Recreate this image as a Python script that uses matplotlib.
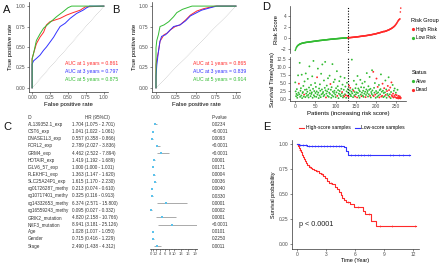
import numpy as np
import matplotlib
matplotlib.use("Agg")
import matplotlib.pyplot as plt
from matplotlib.lines import Line2D
from matplotlib.ticker import MultipleLocator

plt.rcParams['font.family'] = ['Liberation Sans', 'DejaVu Sans']

RED = '#FF2A2A'
BLUE = '#3333FF'
GREEN = '#33BB33'
GRAY = '#4D4D4D'

# ---------------- data ----------------
# ROC, panel A (training)
a1_fpr = [0, 0, 0.02, 0.06, 0.11, 0.16, 0.20, 0.25, 0.32, 0.39, 0.48, 0.57, 0.67, 0.74, 1.0]
a1_tpr = [0, 0.36, 0.42, 0.54, 0.62, 0.68, 0.77, 0.81, 0.83, 0.85, 0.89, 0.92, 0.95, 0.99, 1.0]
a3_fpr = [0, 0, 0.02, 0.06, 0.11, 0.16, 0.20, 0.25, 0.30, 0.34, 0.39, 0.46, 0.53, 0.62, 0.71, 0.76, 0.80, 1.0]
a3_tpr = [0, 0.29, 0.33, 0.36, 0.40, 0.46, 0.50, 0.56, 0.62, 0.68, 0.75, 0.79, 0.85, 0.91, 0.95, 0.98, 1.0, 1.0]
a5_fpr = [0, 0, 0.02, 0.06, 0.11, 0.16, 0.25, 0.34, 0.43, 0.50, 0.55, 1.0]
a5_tpr = [0, 0.35, 0.42, 0.58, 0.66, 0.73, 0.80, 0.87, 0.93, 0.98, 1.0, 1.0]
auc_a = [0.861, 0.797, 0.875]

# ROC, panel B (validation)
b1_fpr = [0, 0, 0.01, 0.03, 0.05, 0.10, 0.14, 0.18, 0.24, 0.30, 0.37, 0.43, 0.51, 0.60, 0.74, 1.0]
b1_tpr = [0, 0.28, 0.35, 0.44, 0.57, 0.65, 0.67, 0.71, 0.75, 0.77, 0.83, 0.89, 0.94, 0.97, 1.0, 1.0]
b3_fpr = [0, 0, 0.01, 0.03, 0.05, 0.07, 0.12, 0.16, 0.22, 0.30, 0.37, 0.43, 0.49, 0.57, 0.68, 0.76, 1.0]
b3_tpr = [0, 0.14, 0.28, 0.44, 0.57, 0.63, 0.65, 0.69, 0.75, 0.77, 0.82, 0.88, 0.91, 0.95, 0.98, 1.0, 1.0]
b5_fpr = [0, 0, 0.01, 0.03, 0.05, 0.10, 0.16, 0.22, 0.26, 0.33, 0.39, 0.45, 1.0]
b5_tpr = [0, 0.49, 0.58, 0.65, 0.75, 0.77, 0.81, 0.87, 0.92, 0.96, 0.98, 1.0, 1.0]
auc_b = [0.865, 0.839, 0.914]
years = [1, 3, 5]

# forest plot, panel C
ids = ["AL139352.1_exp", "CST6_exp", "DNASE1L3_exp", "FCRL2_exp", "GRM4_exp",
       "HOTAIR_exp", "IGLV6_57_exp", "PLEKHF1_exp", "SLC25A24P1_exp",
       "cg01726287_methy", "cg10717401_methy", "cg14332653_methy",
       "cg16559243_methy", "GRIK2_mutation", "NXF3_mutation", "Age", "Gender", "Stage"]
hr = [1.704, 1.041, 0.557, 2.789, 4.462, 1.419, 1.000, 1.363, 1.615,
      0.213, 0.325, 6.374, 0.095, 4.820, 8.941, 1.028, 0.715, 2.490]
hr_lo = [1.075, 1.022, 0.358, 2.027, 2.522, 1.192, 1.000, 1.147, 1.170,
         0.074, 0.116, 2.571, 0.027, 2.158, 3.181, 1.007, 0.416, 1.438]
hr_hi = [2.701, 1.061, 0.866, 3.836, 7.894, 1.689, 1.001, 1.620, 2.230,
         0.610, 0.913, 15.800, 0.332, 10.766, 25.126, 1.050, 1.229, 4.312]
pvals = ["0.0234", "<0.0001", "0.0093", "<0.0001", "<0.0001", "0.0001", "0.0171",
         "0.0004", "0.0036", "0.0040", "0.0330", "0.0001", "0.0002", "0.0001",
         "<0.0001", "0.0101", "0.2250", "0.0011"]
forest_ticks = [0, 1, 2, 4, 6, 8, 10, 13, 16, 19]

# risk score per patient (sorted), panel D
risk_score = [
    -2.25, -2.05, -1.85, -1.70, -1.58, -1.48, -1.40, -1.33, -1.27, -1.22,
    -1.17, -1.13, -1.09, -1.06, -1.03, -1.00, -0.98, -0.96, -0.94, -0.92,
    -0.90, -0.88, -0.87, -0.85, -0.84, -0.83, -0.81, -0.80, -0.79, -0.78,
    -0.77, -0.76, -0.75, -0.74, -0.73, -0.72, -0.71, -0.70, -0.69, -0.68,
    -0.67, -0.66, -0.65, -0.64, -0.63, -0.62, -0.61, -0.60, -0.59, -0.58,
    -0.57, -0.56, -0.55, -0.54, -0.53, -0.52, -0.51, -0.50, -0.49, -0.48,
    -0.47, -0.46, -0.45, -0.45, -0.44, -0.43, -0.42, -0.41, -0.40, -0.39,
    -0.38, -0.37, -0.37, -0.36, -0.35, -0.34, -0.33, -0.33, -0.32, -0.31,
    -0.30, -0.29, -0.28, -0.28, -0.27, -0.26, -0.25, -0.24, -0.24, -0.23,
    -0.22, -0.21, -0.21, -0.20, -0.19, -0.18, -0.18, -0.17, -0.16, -0.16,
    -0.15, -0.14, -0.14, -0.13, -0.12, -0.12, -0.11, -0.10, -0.10, -0.09,
    -0.08, -0.08, -0.07, -0.06, -0.06, -0.05, -0.04, -0.04, -0.03, -0.03,
    -0.02, -0.02, -0.01, -0.01, 0.00, 0.00, 0.01, 0.01, 0.02, 0.02,
    0.03, 0.03, 0.04, 0.05, 0.05, 0.06, 0.07, 0.07, 0.08, 0.09,
    0.10, 0.10, 0.11, 0.12, 0.13, 0.13, 0.14, 0.15, 0.16, 0.17,
    0.18, 0.19, 0.19, 0.20, 0.21, 0.22, 0.23, 0.24, 0.25, 0.26,
    0.27, 0.28, 0.29, 0.30, 0.31, 0.32, 0.33, 0.34, 0.35, 0.36,
    0.37, 0.38, 0.39, 0.40, 0.41, 0.42, 0.43, 0.44, 0.45, 0.47,
    0.48, 0.49, 0.50, 0.52, 0.53, 0.54, 0.56, 0.57, 0.58, 0.60,
    0.61, 0.63, 0.64, 0.66, 0.67, 0.69, 0.70, 0.72, 0.74, 0.75,
    0.77, 0.79, 0.81, 0.83, 0.85, 0.87, 0.89, 0.91, 0.93, 0.95,
    0.97, 0.99, 1.01, 1.03, 1.06, 1.08, 1.10, 1.13, 1.15, 1.18,
    1.15, 1.17, 1.19, 1.22, 1.24, 1.27, 1.30, 1.33, 1.36, 1.39,
    1.42, 1.45, 1.48, 1.52, 1.56, 1.60, 1.64, 1.68, 1.72, 1.77,
    1.82, 1.87, 1.92, 1.98, 2.04, 2.11, 2.18, 2.26, 2.35, 2.45,
    2.55, 2.66, 2.78, 2.90, 3.03, 3.15, 3.25, 3.32, 3.38, 3.45, 4.70, 5.40]
n_low = 130

surv_time = [
    5.2, 2.4, 0.9, 1.6, 3.1, 0.4, 1.2, 7.4, 2.0, 4.8,
    1.5, 11.3, 0.7, 2.6, 3.4, 1.1, 7.6, 0.3, 1.9, 2.2,
    4.1, 0.8, 1.4, 5.5, 2.9, 0.6, 8.0, 1.7, 3.0, 1.0,
    2.3, 6.3, 1.3, 0.5, 3.6, 10.2, 1.8, 2.7, 0.9, 4.4,
    1.6, 2.1, 7.1, 0.4, 3.2, 11.9, 1.2, 2.5, 0.8, 5.0,
    1.9, 3.8, 0.7, 2.4, 6.8, 1.4, 9.5, 2.0, 0.3, 3.3,
    1.1, 4.6, 2.6, 0.6, 7.9, 1.5, 3.0, 10.8, 1.8, 2.2,
    0.9, 5.8, 1.3, 3.5, 11.6, 2.7, 0.5, 1.7, 4.2, 2.4,
    1.0, 6.5, 3.1, 0.7, 2.0, 7.3, 1.6, 4.7, 2.9, 0.4,
    3.7, 1.2, 10.9, 2.3, 0.8, 5.3, 1.9, 2.6, 6.1, 1.4,
    0.6, 3.4, 2.1, 8.7, 1.0, 4.0, 2.8, 0.3, 1.7, 5.6,
    2.5, 1.3, 7.0, 0.9, 3.2, 1.8, 2.2, 4.5, 0.5, 1.1,
    2.9, 0.8, 6.6, 1.5, 3.9, 1.2, 0.4, 2.4, 5.1, 1.0,
    3.1, 2.0, 0.7, 4.2, 1.6, 2.7, 3.5, 1.3, 0.9, 2.3,
    12.3, 1.8, 3.0, 0.6, 2.6, 5.7, 1.2, 2.2, 0.8, 3.4,
    1.5, 4.6, 2.1, 0.5, 7.2, 1.9, 3.3, 1.0, 2.8, 0.4,
    2.4, 6.0, 1.4, 3.7, 0.9, 2.0, 4.9, 1.1, 2.6, 0.7,
    3.6, 1.7, 5.4, 2.3, 0.6, 1.3, 3.0, 8.1, 1.9, 2.5,
    0.8, 4.0, 1.5, 2.9, 6.9, 1.0, 3.2, 0.5, 2.2, 1.6,
    9.0, 2.7, 1.2, 8.5, 0.9, 3.5, 2.0, 5.0, 1.4, 0.4,
    2.5, 6.4, 1.8, 0.7, 3.8, 2.1, 1.1, 4.4, 0.5, 2.8,
    1.5, 3.1, 7.7, 0.8, 2.3, 1.0, 4.8, 2.6, 0.6, 1.9,
    3.4, 0.9, 2.1, 5.8, 1.3, 3.0, 0.4, 2.5, 1.6, 4.1,
    1.1, 6.8, 2.8, 0.7, 1.5, 3.6, 0.3, 2.2, 5.2, 1.2,
    0.8, 4.4, 1.7, 0.5, 2.6, 1.0, 3.3, 0.6, 1.4, 2.0,
    0.4, 1.2, 0.3, 2.9, 0.6, 0.2, 1.0, 0.5, 0.3, 0.8, 0.2, 0.4]
# 1 = dead, 0 = alive
surv_status = [
    0, 0, 0, 0, 0, 0, 0, 0, 0, 1,
    0, 0, 0, 0, 0, 0, 0, 0, 0, 0,
    0, 0, 1, 0, 0, 0, 0, 0, 0, 0,
    0, 0, 0, 0, 0, 0, 0, 0, 0, 0,
    0, 0, 0, 0, 0, 0, 0, 0, 0, 0,
    0, 0, 0, 0, 1, 0, 0, 0, 0, 0,
    0, 0, 0, 0, 0, 0, 0, 0, 0, 0,
    0, 0, 0, 0, 0, 0, 1, 0, 0, 0,
    0, 0, 0, 0, 0, 0, 0, 1, 0, 0,
    0, 0, 0, 0, 0, 0, 0, 0, 0, 0,
    0, 0, 0, 0, 1, 0, 0, 0, 0, 0,
    0, 0, 0, 0, 0, 0, 1, 0, 0, 0,
    0, 1, 0, 0, 0, 1, 0, 0, 0, 1,
    0, 0, 1, 1, 0, 0, 1, 0, 0, 0,
    0, 0, 0, 0, 1, 0, 0, 0, 1, 0,
    0, 0, 0, 1, 0, 0, 0, 0, 0, 0,
    0, 0, 0, 0, 1, 0, 0, 0, 0, 0,
    0, 0, 0, 0, 1, 0, 0, 0, 0, 0,
    0, 0, 0, 0, 0, 1, 0, 0, 0, 0,
    0, 0, 0, 1, 1, 0, 0, 0, 1, 0,
    0, 1, 0, 0, 1, 0, 0, 0, 1, 0,
    0, 0, 0, 1, 0, 1, 1, 0, 0, 0,
    1, 0, 0, 0, 1, 0, 0, 1, 0, 1,
    0, 0, 1, 1, 0, 1, 0, 0, 1, 1,
    1, 0, 1, 1, 0, 1, 0, 1, 1, 0,
    1, 1, 1, 0, 1, 1, 1, 1, 1, 1, 1, 1]

# Kaplan-Meier, panel E
km_high_t = [0, 0.1, 0.2, 0.3, 0.4, 0.5, 0.6, 0.7, 0.8, 0.9, 1.0, 1.2, 1.4, 1.6, 1.8,
             2.0, 2.3, 2.5, 2.7, 2.9, 3.1, 3.3, 3.6, 3.9, 4.1, 4.3, 4.5, 4.7, 4.9,
             5.1, 5.5, 5.9, 6.8, 7.0, 7.7, 8.2, 12.3]
km_high_s = [1.0, 0.98, 0.96, 0.94, 0.92, 0.89, 0.87, 0.85, 0.83, 0.81, 0.79, 0.77,
             0.76, 0.75, 0.74, 0.73, 0.71, 0.70, 0.68, 0.66, 0.63, 0.61, 0.60, 0.57,
             0.55, 0.52, 0.49, 0.46, 0.44, 0.42, 0.40, 0.37, 0.33, 0.30, 0.23, 0.18, 0.18]
km_high_cens = [0.35, 1.3, 2.1, 2.6, 3.5, 5.3, 6.3, 7.4, 8.6, 9.8, 12.2]
km_low_t = [0, 0.2, 0.5, 1.0, 1.5, 4.9, 5.1, 5.25, 11.7]
km_low_s = [1.0, 0.995, 0.99, 0.985, 0.98, 0.975, 0.93, 0.89, 0.89]
km_low_cens = [0.3, 0.6, 0.9, 1.2, 1.6, 1.9, 2.2, 2.5, 2.8, 3.1, 3.4, 3.7, 4.0, 4.3,
               4.6, 5.6, 6.0, 6.3, 6.6, 6.9, 7.3, 7.6, 9.6, 9.9, 10.5, 11.0, 11.6]

# ---------------- figure ----------------
W, H = 440, 263
fig = plt.figure(figsize=(W / 100, H / 100), dpi=100)


def px_rect(x0, y0, x1, y1):
    return [x0 / W, 1 - y1 / H, (x1 - x0) / W, (y1 - y0) / H]


def ftext(x, y, s, **kw):
    fig.text(x / W, 1 - y / H, s, **kw)


def style_axes(ax, left=True, bottom=True):
    for sp in ['top', 'right']:
        ax.spines[sp].set_visible(False)
    ax.spines['left'].set_visible(left)
    ax.spines['bottom'].set_visible(bottom)
    for sp in ['left', 'bottom']:
        ax.spines[sp].set_linewidth(0.5)
        ax.spines[sp].set_color('#333333')
    ax.tick_params(labelsize=3.5, length=1.5, width=0.4, pad=1, colors='#333333',
                   labelcolor=GRAY)


def roc_panel(rect, curves, aucs):
    ax = fig.add_axes(px_rect(*rect))
    ax.plot([0, 1], [0, 1], color='#999999', lw=0.4, ls=':')
    for (fpr, tpr), c in zip(curves, [RED, BLUE, GREEN]):
        ax.plot(fpr, tpr, color=c, lw=0.7)
    for k, (yr, auc, c) in enumerate(zip(years, aucs, [RED, BLUE, GREEN])):
        ax.text(0.46, 0.30 - 0.10 * k, f"AUC at {yr} years = {auc:.3f}", color=c,
                fontsize=3.7, va='center', clip_on=False)
    ax.set_xlim(-0.05, 1.05)
    ax.set_ylim(-0.05, 1.05)
    ticks = [0, 0.25, 0.5, 0.75, 1.0]
    ax.set_xticks(ticks)
    ax.set_yticks(ticks)
    ax.set_xticklabels([f"{t:.2f}" for t in ticks])
    ax.set_yticklabels([f"{t:.2f}" for t in ticks])
    ax.set_xlabel("False positive rate", fontsize=4.3, labelpad=1)
    ax.set_ylabel("True positive rate", fontsize=4.3, labelpad=1.5)
    style_axes(ax)
    return ax


roc_panel((28.5, 2, 107.5, 92), [(a1_fpr, a1_tpr), (a3_fpr, a3_tpr), (a5_fpr, a5_tpr)], auc_a)
roc_panel((152, 2, 240, 92), [(b1_fpr, b1_tpr), (b3_fpr, b3_tpr), (b5_fpr, b5_tpr)], auc_b)

# ---- D: risk score and survival scatter ----
n = len(risk_score)
idx = np.arange(n)
cols_risk = [GREEN if i < n_low else RED for i in idx]
axd1 = fig.add_axes(px_rect(290, 6, 406, 52.5))
axd1.scatter(idx, risk_score, c=cols_risk, s=1.3, linewidths=0)
axd1.axvline(n_low - 0.5, color='black', lw=0.8, ls=(0, (1, 1.5)))
axd1.set_xlim(-13, n + 12)
axd1.set_ylim(-2.63, 5.78)
axd1.set_yticks([-2, 0, 2, 4])
axd1.set_xticks([])
axd1.set_ylabel("Risk Score", fontsize=4.3, labelpad=1.5)
style_axes(axd1, bottom=False)

axd2 = fig.add_axes(px_rect(290, 57.4, 406, 101))
cols_stat = [RED if s == 1 else GREEN for s in surv_status]
axd2.scatter(idx, surv_time, c=cols_stat, s=1.8, linewidths=0)
axd2.axvline(n_low - 0.5, color='black', lw=0.8, ls=(0, (1, 1.5)))
axd2.set_xlim(-13, n + 12)
axd2.set_ylim(-0.6, 13.0)
axd2.set_yticks([0, 2.5, 5, 7.5, 10, 12.5])
axd2.set_yticklabels(["0.0", "2.5", "5.0", "7.5", "10.0", "12.5"])
axd2.set_xticks([0, 50, 100, 150, 200, 250])
axd2.set_xlabel("Patients (increasing risk score)", fontsize=4.3, labelpad=1)
axd2.set_ylabel("Survival Time(years)", fontsize=4.3, labelpad=1.5)
style_axes(axd2)

leg_kw = dict(loc='upper left', bbox_transform=fig.transFigure, frameon=False,
              fontsize=3.5, title_fontsize=4.0, handletextpad=0.3, labelspacing=0.7,
              borderpad=0, alignment='left', handlelength=0.6)
h1 = [Line2D([], [], marker='o', ls='', color=RED, ms=1.3, label='High Risk'),
      Line2D([], [], marker='o', ls='', color=GREEN, ms=1.3, label='Low Risk')]
axd1.legend(handles=h1, title='Risk Group', bbox_to_anchor=(409 / W, 1 - 16 / H), **leg_kw)
h2 = [Line2D([], [], marker='o', ls='', color=GREEN, ms=1.3, label='Alive'),
      Line2D([], [], marker='o', ls='', color=RED, ms=1.3, label='Dead')]
axd2.legend(handles=h2, title='Status', bbox_to_anchor=(409 / W, 1 - 68 / H), **leg_kw)

# ---- C: forest plot ----
row0, dy = 124.5, 7.15
tkw = dict(fontsize=3.3, va='center', color='#333333')
for i in range(len(ids)):
    y = row0 + dy * i
    ftext(28, y, ids[i], **tkw)
    ftext(72, y, f"{hr[i]:.3f} ({hr_lo[i]:.3f} - {hr_hi[i]:.3f})", **tkw)
    ftext(212, y, pvals[i], **tkw)
ftext(28, row0 - dy, "ID", **tkw)
ftext(85, row0 - dy, "HR (95%CI)", **tkw)
ftext(212, row0 - dy, "P-value", **tkw)

axc = fig.add_axes(px_rect(149.9, 118.5, 197.3, 249))
ypos = np.arange(len(ids))
axc.hlines(ypos, hr_lo, hr_hi, color='#888888', lw=0.5)
axc.plot(hr, ypos, 's', color='#5BC2EC', ms=1.6, mew=0)
axc.set_xlim(-0.5, 20.1)
axc.set_ylim((249 - row0) / dy, (118.5 - row0) / dy)
axc.set_yticks([])
axc.set_xticks(forest_ticks)
axc.xaxis.set_minor_locator(MultipleLocator(1))
style_axes(axc, left=False)
axc.tick_params(labelsize=3.0, pad=0.5)
axc.tick_params(which='minor', length=1.0, width=0.3, colors='#333333')

# ---- E: Kaplan-Meier ----
axe = fig.add_axes(px_rect(292.2, 140, 418.8, 249))
axe.step(km_high_t, km_high_s, where='post', color=RED, lw=0.8, label='High-score samples')
axe.step(km_low_t, km_low_s, where='post', color=BLUE, lw=0.8, label='Low-score samples')


def step_at(ts, ss, t):
    return ss[np.searchsorted(ts, t, side='right') - 1]


axe.plot(km_high_cens, [step_at(km_high_t, km_high_s, t) for t in km_high_cens], '+',
         color=RED, ms=1.8, mew=0.4)
axe.plot(km_low_cens, [step_at(km_low_t, km_low_s, t) for t in km_low_cens], '+',
         color=BLUE, ms=1.8, mew=0.4)
axe.text(0.2, 0.2, "p < 0.0001", fontsize=5.2, va='center', color='#222222')
axe.set_xlim(-0.5, 12.6)
axe.set_ylim(-0.05, 1.04)
axe.set_xticks([0, 3, 6, 9, 12])
axe.set_yticks([0, 0.25, 0.5, 0.75, 1.0])
axe.set_yticklabels(["0.00", "0.25", "0.50", "0.75", "1.00"])
axe.set_xlabel("Time (Year)", fontsize=4.0, labelpad=0.5)
axe.set_ylabel("Survival probability", fontsize=4.0, labelpad=2)
style_axes(axe)
axe.legend(loc='lower center', bbox_to_anchor=(352 / W, 1 - 133 / H),
           bbox_transform=fig.transFigure, ncol=2, frameon=False, fontsize=3.6,
           handlelength=1.0, handletextpad=0.3, columnspacing=0.8, borderpad=0)

# panel letters
for letter, (x, y) in zip("ABCDE", [(3, 10), (112, 10), (3, 127), (262, 7), (263, 127)]):
    ftext(x, y, letter, fontsize=8, va='center', color='#111111')

fig.savefig("out.png", dpi=100)
